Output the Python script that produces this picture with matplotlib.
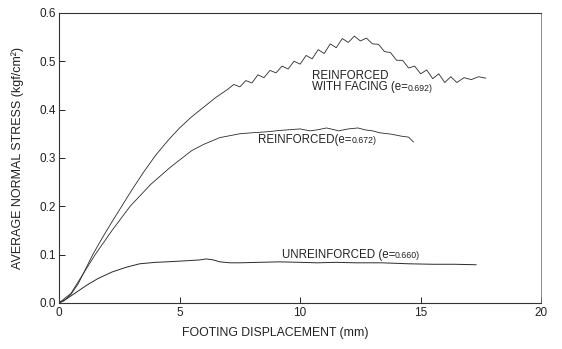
import numpy as np
import matplotlib
matplotlib.use("Agg")
import matplotlib.pyplot as plt

plt.rcParams['font.family'] = ['Liberation Sans', 'DejaVu Sans']

# reinforced with facing (e=0.692)
disp_f = [0, 0.2, 0.5, 0.8, 1.1, 1.4, 1.8, 2.2, 2.6, 3.0, 3.5, 4.0, 4.5, 5.0, 5.5, 6.0, 6.5, 7.0,
          7.25, 7.5, 7.75, 8.0, 8.25, 8.5, 8.75, 9.0, 9.25, 9.5, 9.75, 10.0, 10.25, 10.5, 10.75,
          11.0, 11.25, 11.5, 11.75, 12.0, 12.25, 12.5, 12.75, 13.0, 13.25, 13.5, 13.75, 14.0,
          14.25, 14.5, 14.75, 15.0, 15.25, 15.5, 15.75, 16.0, 16.25, 16.5, 16.8, 17.1, 17.4, 17.7]
stress_f = [0, 0.004, 0.018, 0.04, 0.07, 0.1, 0.135, 0.168, 0.2, 0.232, 0.27, 0.305, 0.335, 0.362,
            0.385, 0.405, 0.425, 0.442,
            0.452, 0.447, 0.460, 0.455, 0.472, 0.466, 0.481, 0.476, 0.490, 0.484, 0.500, 0.494,
            0.512, 0.505, 0.524, 0.516, 0.536, 0.528, 0.547, 0.539, 0.552, 0.542, 0.548, 0.536,
            0.535, 0.520, 0.518, 0.502, 0.502, 0.486, 0.490, 0.474, 0.482, 0.464, 0.474, 0.456,
            0.468, 0.456, 0.466, 0.462, 0.468, 0.465]

# reinforced (e=0.672)
disp_r = [0, 0.5, 1.0, 1.5, 2.2, 2.95, 3.8, 4.6, 5.5, 6.0, 6.67, 7.5, 8.0, 8.6, 9.2, 10.0, 10.4,
          10.7, 11.1, 11.6, 12.0, 12.4, 12.7, 13.0, 13.3, 13.8, 14.2, 14.5, 14.7]
stress_r = [0, 0.02, 0.06, 0.1, 0.15, 0.2, 0.245, 0.28, 0.315, 0.328, 0.342, 0.35, 0.352, 0.354,
            0.357, 0.36, 0.356, 0.358, 0.362, 0.356, 0.36, 0.362, 0.358, 0.356, 0.352, 0.349,
            0.345, 0.343, 0.333]

# unreinforced (e=0.660)
disp_u = [0, 0.3, 0.6, 1.16, 1.6, 2.2, 2.8, 3.35, 4.0, 4.47, 5.2, 5.84, 6.1, 6.4, 6.67, 7.1, 7.5,
          8.3, 9.15, 10.0, 10.7, 11.5, 12.3, 13.4, 14.5, 15.5, 16.4, 17.3]
stress_u = [0, 0.008, 0.018, 0.037, 0.05, 0.064, 0.074, 0.081, 0.084, 0.085, 0.087, 0.089, 0.091,
            0.089, 0.085, 0.083, 0.083, 0.084, 0.085, 0.084, 0.083, 0.084, 0.083, 0.083, 0.081,
            0.080, 0.080, 0.079]

xticks = [0, 5, 10, 15, 20]
yticks = [0.0, 0.1, 0.2, 0.3, 0.4, 0.5, 0.6]

fig = plt.figure(figsize=(5.62, 3.49), dpi=100)
ax = fig.add_axes([0.105, 0.132, 0.858, 0.831])

lc = '#2a2a2a'
ax.plot(disp_f, stress_f, color=lc, lw=0.6)
ax.plot(disp_r, stress_r, color=lc, lw=0.6)
ax.plot(disp_u, stress_u, color=lc, lw=0.7)

ax.set_xlim(0, 20)
ax.set_ylim(0, 0.6)
ax.set_xticks(xticks)
ax.set_xticklabels([str(t) for t in xticks])
ax.set_yticks(yticks)
ax.set_yticklabels(["%.1f" % t for t in yticks])
ax.tick_params(direction='in', length=4, width=0.7, labelsize=8.5, colors='#222222')
ax.tick_params(axis='x', pad=3)
ax.tick_params(axis='y', pad=2)
for s in ax.spines.values():
    s.set_linewidth(0.8)
    s.set_color('#333333')
ax.spines['right'].set_linewidth(0.6)
ax.spines['right'].set_color('#777777')

ax.set_xlabel("FOOTING DISPLACEMENT (mm)", fontsize=8.8, color='#222222')
ax.xaxis.set_label_coords(0.448, -0.083)
ax.set_ylabel("AVERAGE NORMAL STRESS (kgf/cm²)", fontsize=9.0, color='#222222')
ax.yaxis.set_label_coords(-0.073, 0.5)

fs = 8.3
small = 6.3
tc = '#222222'
ax.text(10.48, 0.470, "REINFORCED", fontsize=fs, va='center', color=tc)
t2 = ax.text(10.48, 0.446, "WITH FACING (e=", fontsize=fs, va='center', color=tc)
ax.annotate("0.692)", xy=(1, 0.22), xycoords=t2, va='baseline', fontsize=small, color=tc)
t3 = ax.text(8.24, 0.337, "REINFORCED(e=", fontsize=fs, va='center', color=tc)
ax.annotate("0.672)", xy=(1, 0.22), xycoords=t3, va='baseline', fontsize=small, color=tc)
t4 = ax.text(9.23, 0.099, "UNREINFORCED (e=", fontsize=fs, va='center', color=tc)
ax.annotate("0.660)", xy=(1, 0.22), xycoords=t4, va='baseline', fontsize=small, color=tc)

fig.savefig("out.png", dpi=100)
